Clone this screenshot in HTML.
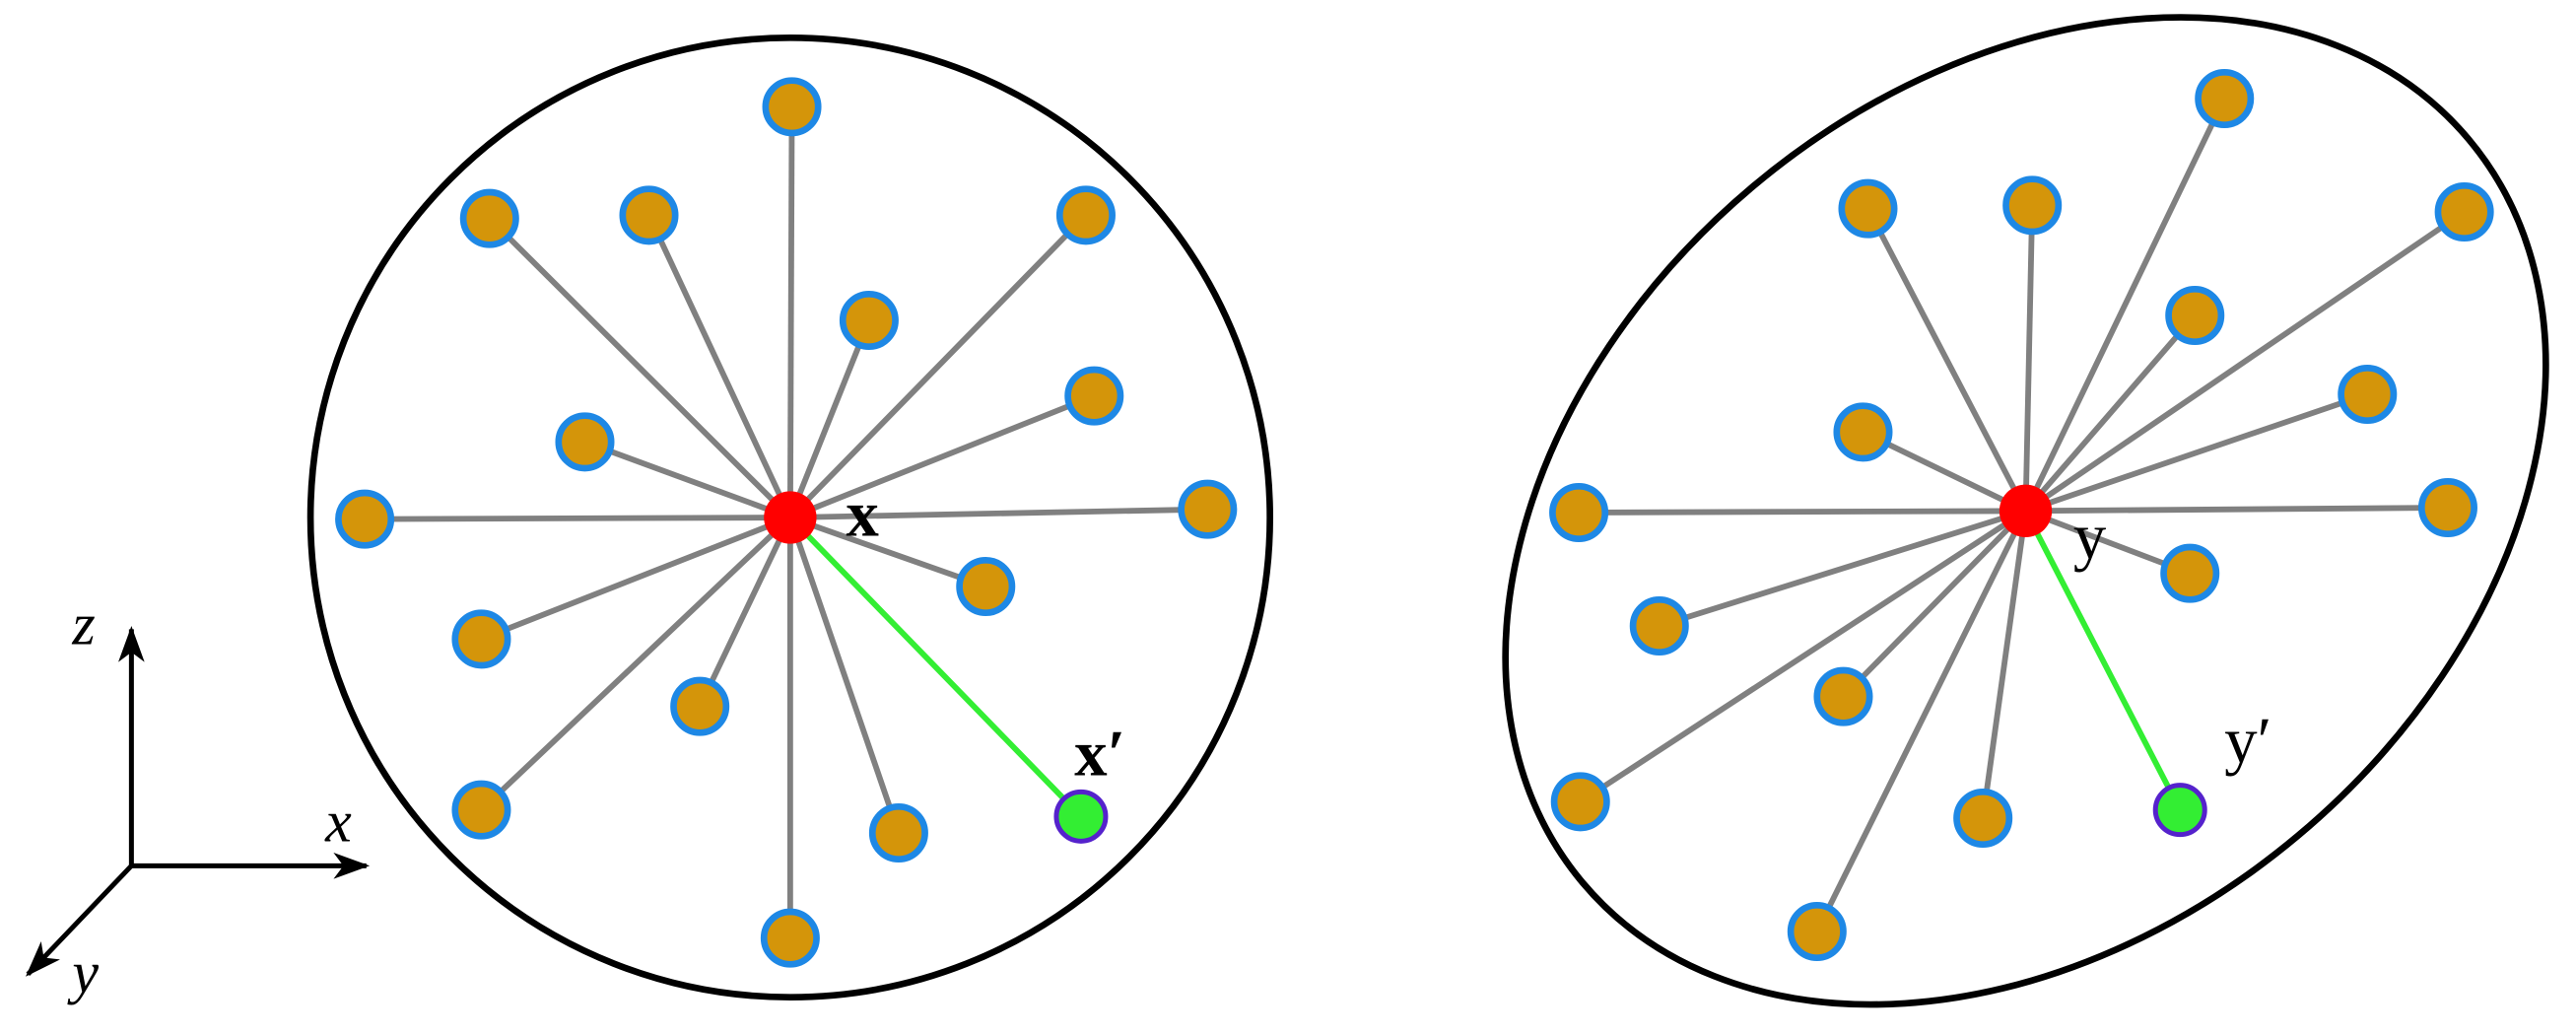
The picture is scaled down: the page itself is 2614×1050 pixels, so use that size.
<!DOCTYPE html>
<html><head><style>html,body{margin:0;padding:0;background:#fff;overflow:hidden;width:2614px;height:1050px;position:relative}svg{display:block;position:absolute;left:0;top:0}</style></head><body>
<svg width="2614" height="1050" viewBox="0 0 1568 630" preserveAspectRatio="none" xmlns="http://www.w3.org/2000/svg">
<defs>
<marker id="ah" markerWidth="22" markerHeight="16" refX="20" refY="8" orient="auto" markerUnits="userSpaceOnUse"><path d="M0,0 L22,8 L0,16 L6,8 Z" fill="#000"/></marker>
</defs>
<circle cx="481" cy="315" r="292" fill="none" stroke="#000" stroke-width="4"/>
<ellipse cx="1233" cy="311" rx="352" ry="258" transform="rotate(-40 1233 311)" fill="none" stroke="#000" stroke-width="4"/>
<g stroke="#808080" stroke-width="3.5">
<line x1="481" y1="315" x2="482" y2="65"/><line x1="481" y1="315" x2="298" y2="133"/><line x1="481" y1="315" x2="395" y2="131"/><line x1="481" y1="315" x2="661" y2="131"/><line x1="481" y1="315" x2="529" y2="195"/><line x1="481" y1="315" x2="666" y2="241"/><line x1="481" y1="315" x2="356" y2="269"/><line x1="481" y1="315" x2="222" y2="316"/><line x1="481" y1="315" x2="735" y2="310"/><line x1="481" y1="315" x2="600" y2="357"/><line x1="481" y1="315" x2="293" y2="389"/><line x1="481" y1="315" x2="426" y2="430"/><line x1="481" y1="315" x2="293" y2="493"/><line x1="481" y1="315" x2="547" y2="507"/><line x1="481" y1="315" x2="481" y2="571"/>
<line x1="1233" y1="311" x2="1354" y2="60"/><line x1="1233" y1="311" x2="1137" y2="127"/><line x1="1233" y1="311" x2="1237" y2="125"/><line x1="1233" y1="311" x2="1500" y2="129"/><line x1="1233" y1="311" x2="1336" y2="192"/><line x1="1233" y1="311" x2="1441" y2="240"/><line x1="1233" y1="311" x2="1134" y2="263"/><line x1="1233" y1="311" x2="961" y2="312"/><line x1="1233" y1="311" x2="1490" y2="309"/><line x1="1233" y1="311" x2="1333" y2="349"/><line x1="1233" y1="311" x2="1010" y2="381"/><line x1="1233" y1="311" x2="1122" y2="424"/><line x1="1233" y1="311" x2="962" y2="488"/><line x1="1233" y1="311" x2="1207" y2="498"/><line x1="1233" y1="311" x2="1106" y2="567"/>
</g>
<line x1="481" y1="315" x2="658" y2="497" stroke="#33ee33" stroke-width="3.5"/>
<line x1="1233" y1="311" x2="1327" y2="493" stroke="#33ee33" stroke-width="3.5"/>
<g fill="#D4950A" stroke="#1E88E5" stroke-width="4">
<circle cx="482" cy="65" r="16"/><circle cx="298" cy="133" r="16"/><circle cx="395" cy="131" r="16"/><circle cx="661" cy="131" r="16"/><circle cx="529" cy="195" r="16"/><circle cx="666" cy="241" r="16"/><circle cx="356" cy="269" r="16"/><circle cx="222" cy="316" r="16"/><circle cx="735" cy="310" r="16"/><circle cx="600" cy="357" r="16"/><circle cx="293" cy="389" r="16"/><circle cx="426" cy="430" r="16"/><circle cx="293" cy="493" r="16"/><circle cx="547" cy="507" r="16"/><circle cx="481" cy="571" r="16"/>
<circle cx="1354" cy="60" r="16"/><circle cx="1137" cy="127" r="16"/><circle cx="1237" cy="125" r="16"/><circle cx="1500" cy="129" r="16"/><circle cx="1336" cy="192" r="16"/><circle cx="1441" cy="240" r="16"/><circle cx="1134" cy="263" r="16"/><circle cx="961" cy="312" r="16"/><circle cx="1490" cy="309" r="16"/><circle cx="1333" cy="349" r="16"/><circle cx="1010" cy="381" r="16"/><circle cx="1122" cy="424" r="16"/><circle cx="962" cy="488" r="16"/><circle cx="1207" cy="498" r="16"/><circle cx="1106" cy="567" r="16"/>
</g>
<circle cx="658" cy="497" r="15" fill="#33ee33" stroke="#5522cc" stroke-width="3"/>
<circle cx="1327" cy="493" r="15" fill="#33ee33" stroke="#5522cc" stroke-width="3"/>
<circle cx="481" cy="315" r="16" fill="#ff0000"/>
<circle cx="1233" cy="311" r="16" fill="#ff0000"/>
<g font-family="Liberation Serif, serif" fill="#000">
<text x="515" y="326" font-size="40" font-weight="bold">x</text>
<text x="654" y="472" font-size="40" font-weight="bold">x′</text>
<text x="1262" y="340" font-size="40">y</text>
<text x="1354" y="464" font-size="40">y′</text>
<text x="44" y="392" font-size="36" font-style="italic">z</text>
<text x="198" y="512" font-size="36" font-style="italic">x</text>
<text x="44" y="604" font-size="36" font-style="italic">y</text>
</g>
<g stroke="#000" stroke-width="3" fill="none">
<line x1="80" y1="527" x2="80" y2="383" marker-end="url(#ah)"/>
<line x1="80" y1="527" x2="223" y2="527" marker-end="url(#ah)"/>
<line x1="80" y1="527" x2="17" y2="593" marker-end="url(#ah)"/>
</g>
</svg>
</body></html>
